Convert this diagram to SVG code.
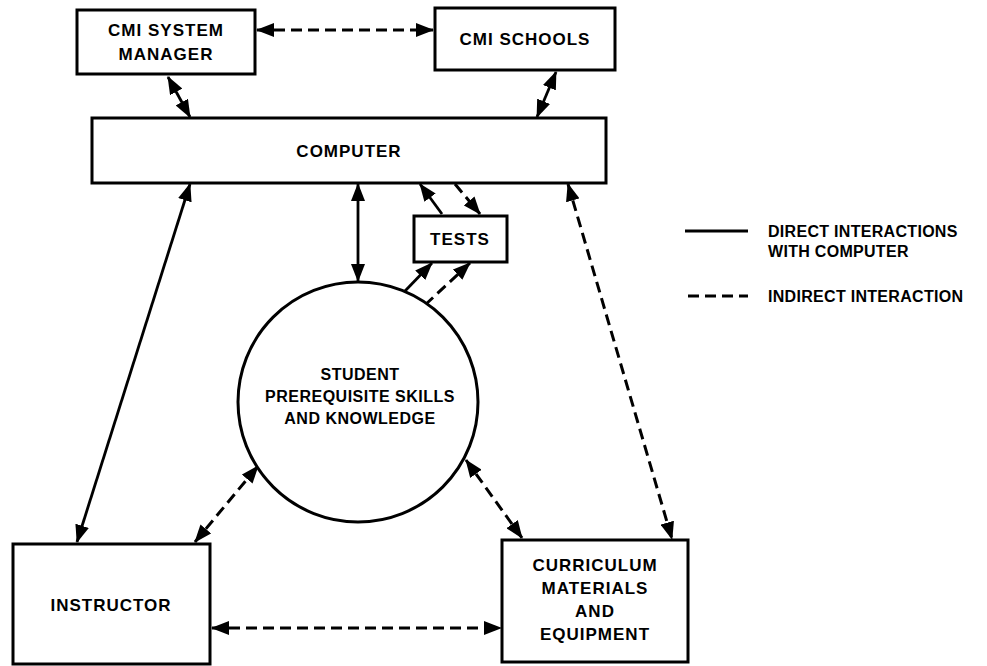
<svg xmlns="http://www.w3.org/2000/svg" width="987" height="666" viewBox="0 0 987 666">
<style>
.box{fill:#fff;stroke:#000;stroke-width:3}
.lbl{font-family:"Liberation Sans",Arial,sans-serif;font-weight:bold;font-size:17px;letter-spacing:1px;text-anchor:middle;fill:#000}
.stu{font-family:"Liberation Sans",Arial,sans-serif;font-weight:bold;font-size:16px;letter-spacing:0.5px;text-anchor:middle;fill:#000}
.leg{font-family:"Liberation Sans",Arial,sans-serif;font-weight:bold;font-size:16px;letter-spacing:0.3px;fill:#000}
.solid{fill:none;stroke:#000;stroke-width:2.8}
.dash{fill:none;stroke:#000;stroke-width:3;stroke-dasharray:11 6}
</style>
<defs>
<marker id="ah" markerUnits="userSpaceOnUse" markerWidth="18" markerHeight="14" refX="17" refY="7" orient="auto-start-reverse">
<path d="M0,0 L18,7 L0,14 z" fill="#000"/>
</marker>
</defs>
<rect width="987" height="666" fill="#fff"/>

<g id="connectors">
<line class="dash" x1="257" y1="30" x2="433" y2="30" marker-start="url(#ah)" marker-end="url(#ah)"/>
<line class="solid" x1="168" y1="77" x2="190" y2="117" marker-start="url(#ah)" marker-end="url(#ah)"/>
<line class="solid" x1="556" y1="72" x2="537" y2="117" marker-start="url(#ah)" marker-end="url(#ah)"/>
<line class="solid" x1="190" y1="184" x2="77" y2="542" marker-start="url(#ah)" marker-end="url(#ah)"/>
<line class="solid" x1="358" y1="184" x2="358" y2="281" marker-start="url(#ah)" marker-end="url(#ah)"/>
<line class="solid" x1="442" y1="214" x2="420" y2="184" marker-end="url(#ah)"/>
<line class="dash" x1="455" y1="184" x2="480" y2="214" marker-end="url(#ah)"/>
<line class="solid" x1="405" y1="291" x2="432" y2="263" marker-end="url(#ah)"/>
<line class="dash" x1="425" y1="305" x2="470" y2="263" marker-end="url(#ah)"/>
<line class="dash" x1="568" y1="184" x2="672" y2="539" marker-start="url(#ah)" marker-end="url(#ah)"/>
<line class="dash" x1="195" y1="542" x2="258" y2="466" marker-start="url(#ah)" marker-end="url(#ah)"/>
<line class="dash" x1="466" y1="460" x2="522" y2="538" marker-start="url(#ah)" marker-end="url(#ah)"/>
<line class="dash" x1="212" y1="628" x2="501" y2="628" marker-start="url(#ah)" marker-end="url(#ah)"/>
</g>

<g id="cmi-system-manager">
<rect class="box" x="77" y="10" width="178" height="64"/>
<text class="lbl" x="166" y="36">CMI SYSTEM</text>
<text class="lbl" x="166" y="60">MANAGER</text>
</g>

<g id="cmi-schools">
<rect class="box" x="435" y="8" width="180" height="62"/>
<text class="lbl" x="525" y="45">CMI SCHOOLS</text>
</g>

<g id="computer">
<rect class="box" x="92" y="118" width="514" height="65"/>
<text class="lbl" x="349" y="157">COMPUTER</text>
</g>

<g id="tests">
<rect class="box" x="414" y="216" width="93" height="46"/>
<text class="lbl" x="460" y="245">TESTS</text>
</g>

<g id="student">
<circle cx="358" cy="402" r="120" fill="#fff" stroke="#000" stroke-width="3"/>
<text class="stu" x="360" y="380">STUDENT</text>
<text class="stu" x="360" y="402">PREREQUISITE SKILLS</text>
<text class="stu" x="360" y="424">AND KNOWLEDGE</text>
</g>

<g id="instructor">
<rect class="box" x="13" y="544" width="197" height="120"/>
<text class="lbl" x="111" y="611">INSTRUCTOR</text>
</g>

<g id="curriculum">
<rect class="box" x="502" y="540" width="186" height="122"/>
<text class="lbl" x="595" y="571">CURRICULUM</text>
<text class="lbl" x="595" y="594">MATERIALS</text>
<text class="lbl" x="595" y="617">AND</text>
<text class="lbl" x="595" y="640">EQUIPMENT</text>
</g>

<g id="legend">
<line class="solid" x1="685" y1="231" x2="748" y2="231"/>
<text class="leg" x="768" y="237">DIRECT INTERACTIONS</text>
<text class="leg" x="768" y="257">WITH COMPUTER</text>
<line class="dash" x1="688" y1="296" x2="748" y2="296"/>
<text class="leg" x="768" y="302">INDIRECT INTERACTION</text>
</g>
</svg>
